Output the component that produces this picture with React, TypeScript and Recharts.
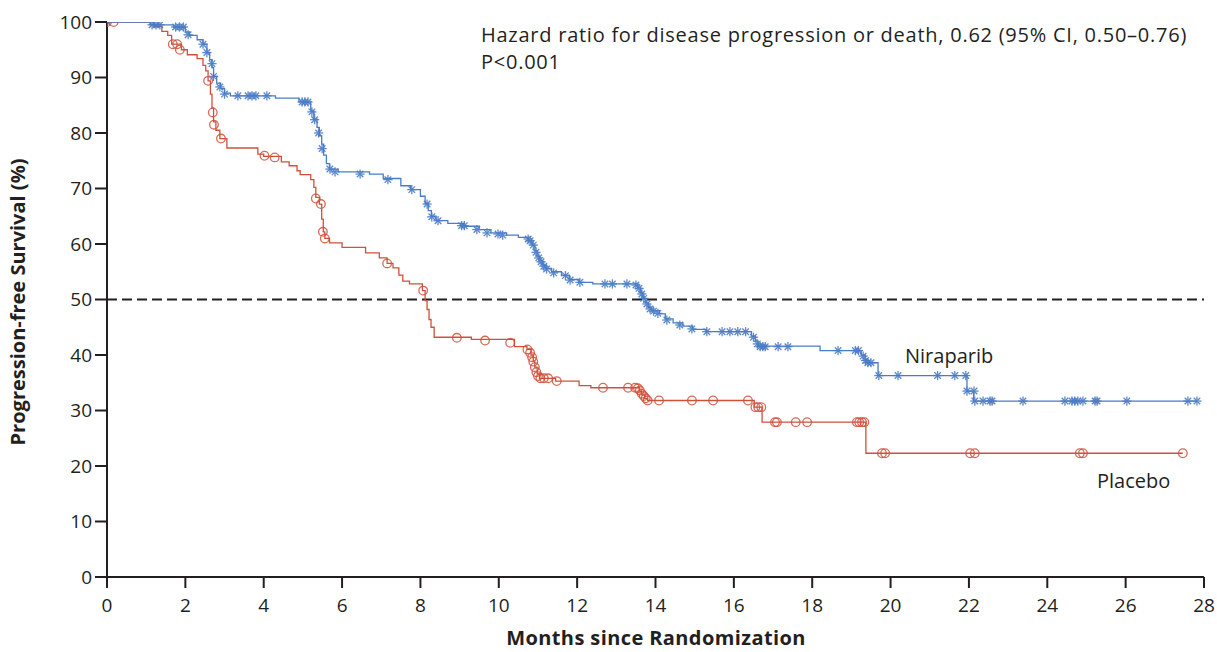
import { ComposedChart, Line, Scatter, XAxis, YAxis, ReferenceLine } from 'recharts'

// Kaplan-Meier step points (months, % progression-free)
const niraparibTimes = [0, 1.1, 1.7, 2.0, 2.1, 2.3, 2.45, 2.55, 2.62, 2.68, 2.72, 2.8, 2.9, 3.0, 3.15, 4.3, 4.9, 5.2, 5.28, 5.36, 5.42, 5.48, 5.53, 5.6, 5.68, 5.9, 6.7, 7.05, 7.5, 7.75, 8.0, 8.12, 8.2, 8.28, 8.4, 8.7, 9.1, 9.5, 9.8, 10.2, 10.5, 10.75, 10.85, 10.92, 10.98, 11.05, 11.12, 11.2, 11.35, 11.6, 11.8, 12.05, 12.4, 13.55, 13.62, 13.68, 13.75, 13.82, 13.9, 14.1, 14.25, 14.45, 14.7, 14.95, 15.3, 16.45, 16.55, 16.62, 18.2, 19.25, 19.35, 19.4, 19.68, 21.95, 22.12, 27.82]
const niraparibSurv = [100, 99.5, 99.1, 98.2, 97.6, 96.8, 96.0, 94.5, 93.2, 91.8, 90.2, 89.0, 88.0, 87.2, 86.7, 86.3, 85.6, 84.0, 82.5, 81.0, 79.5, 78.0, 76.0, 74.5, 73.5, 73.0, 72.6, 71.8, 70.5, 69.8, 68.6, 67.3, 66.0, 65.0, 64.2, 63.7, 63.2, 62.6, 62.0, 61.6, 61.2, 60.6, 59.8, 58.8, 57.8, 57.0, 56.2, 55.6, 55.0, 54.4, 53.6, 53.1, 52.8, 52.2, 51.2, 50.2, 49.4, 48.6, 48.0, 47.4, 46.5, 45.8, 45.2, 44.6, 44.2, 43.4, 42.5, 41.6, 40.8, 40.0, 39.2, 38.6, 36.3, 33.5, 31.7, 31.7]

const placeboTimes = [0, 1.2, 1.4, 1.55, 1.65, 1.9, 2.05, 2.3, 2.45, 2.52, 2.58, 2.64, 2.68, 2.72, 2.78, 2.88, 3.06, 3.85, 4.0, 4.45, 4.65, 4.85, 4.93, 5.2, 5.28, 5.33, 5.42, 5.48, 5.52, 5.56, 5.68, 6.0, 6.6, 6.95, 7.15, 7.3, 7.45, 7.55, 7.72, 8.05, 8.12, 8.17, 8.22, 8.27, 8.35, 9.3, 10.4, 10.72, 10.82, 10.88, 10.92, 10.98, 11.04, 11.45, 12.05, 12.35, 13.6, 13.65, 13.72, 13.8, 16.52, 16.72, 19.37, 27.46]
const placeboSurv = [100, 99.2, 98.3, 97.6, 96.0, 95.0, 94.1, 93.4, 92.2, 91.2, 89.4, 87.0, 84.5, 82.0, 80.5, 79.0, 77.3, 76.2, 75.8, 74.8, 74.1, 73.2, 72.5, 71.6, 70.2, 68.4, 67.2, 64.5, 62.2, 61.0, 60.2, 59.4, 58.4, 57.5, 56.5, 55.7, 54.4, 53.3, 52.8, 51.6, 49.8, 48.2, 46.4, 45.0, 43.2, 42.8, 41.5, 41.0, 40.0, 38.9, 37.8, 36.6, 35.8, 35.3, 34.5, 34.1, 33.4, 32.8, 32.2, 31.8, 30.6, 27.9, 22.3, 22.3]

// Censored observations
const niraparibCensorTimes = [0, 1.15, 1.25, 1.35, 1.75, 1.85, 1.95, 2.07, 2.45, 2.55, 2.68, 2.72, 2.88, 3.0, 3.34, 3.6, 3.7, 3.8, 4.08, 4.98, 5.05, 5.13, 5.23, 5.3, 5.4, 5.49, 5.69, 5.82, 6.46, 7.17, 7.78, 8.17, 8.29, 8.45, 9.05, 9.12, 9.44, 9.7, 9.98, 10.1, 10.75, 10.8, 10.88, 10.95, 11.02, 11.08, 11.15, 11.22, 11.4, 11.7, 11.82, 12.07, 12.71, 12.9, 13.27, 13.5, 13.58, 13.65, 13.7, 13.78, 13.86, 13.95, 14.06, 14.29, 14.62, 14.93, 15.31, 15.7, 15.9, 16.1, 16.3, 16.5, 16.6, 16.67, 16.74, 16.8, 17.13, 17.38, 18.66, 19.1, 19.18, 19.3, 19.36, 19.42, 19.5, 19.7, 20.19, 21.2, 21.64, 21.92, 21.95, 22.13, 22.15, 22.36, 22.54, 22.59, 23.38, 24.45, 24.63, 24.7, 24.78, 24.91, 25.22, 25.27, 26.03, 27.59, 27.82]
const niraparibCensorSurv = [100, 99.5, 99.5, 99.5, 99.1, 99.1, 99.1, 97.7, 96.0, 94.5, 92.5, 90.2, 88.3, 87.0, 86.7, 86.7, 86.7, 86.7, 86.7, 85.6, 85.6, 85.6, 83.8, 82.4, 80.0, 77.2, 73.5, 73.0, 72.6, 71.6, 69.8, 67.2, 64.9, 64.2, 63.3, 63.3, 62.6, 62.0, 61.8, 61.6, 60.9, 60.6, 59.8, 58.5, 57.5, 56.8, 56.0, 55.5, 54.8, 54.3, 53.5, 53.1, 52.8, 52.8, 52.8, 52.6, 52.0, 51.0, 50.2, 49.2, 48.3, 47.9, 47.5, 46.3, 45.4, 44.7, 44.2, 44.2, 44.2, 44.2, 44.2, 43.2, 42.0, 41.5, 41.5, 41.5, 41.5, 41.5, 40.8, 40.8, 40.8, 39.8, 39.0, 38.6, 38.6, 36.3, 36.3, 36.3, 36.3, 36.3, 33.5, 33.5, 31.7, 31.7, 31.7, 31.7, 31.7, 31.7, 31.7, 31.7, 31.7, 31.7, 31.7, 31.7, 31.7, 31.7, 31.7]

const placeboCensorTimes = [0, 0.17, 1.68, 1.79, 1.86, 2.58, 2.7, 2.73, 2.91, 4.02, 4.28, 5.33, 5.46, 5.51, 5.56, 7.15, 8.07, 8.93, 9.65, 10.29, 10.73, 10.8, 10.85, 10.88, 10.92, 10.96, 11.0, 11.06, 11.15, 11.26, 11.48, 12.66, 13.3, 13.48, 13.55, 13.6, 13.65, 13.7, 13.75, 13.8, 14.09, 14.93, 15.47, 16.36, 16.55, 16.62, 16.7, 17.05, 17.1, 17.58, 17.87, 19.14, 19.2, 19.27, 19.33, 19.78, 19.86, 22.03, 22.15, 24.83, 24.91, 27.46]
const placeboCensorSurv = [100, 100, 96.0, 96.0, 95.0, 89.4, 83.7, 81.5, 79.0, 75.9, 75.6, 68.2, 67.2, 62.2, 61.0, 56.5, 51.6, 43.1, 42.6, 42.2, 41.0, 40.4, 39.6, 38.8, 37.8, 36.9, 36.2, 35.8, 35.8, 35.8, 35.3, 34.1, 34.1, 34.1, 34.0, 33.6, 33.0, 32.6, 32.2, 31.8, 31.8, 31.8, 31.8, 31.8, 30.6, 30.6, 30.6, 27.9, 27.9, 27.9, 27.9, 27.9, 27.9, 27.9, 27.9, 22.3, 22.3, 22.3, 22.3, 22.3, 22.3, 22.3]

const xTicks = [0, 2, 4, 6, 8, 10, 12, 14, 16, 18, 20, 22, 24, 26, 28]
const yTicks = [0, 10, 20, 30, 40, 50, 60, 70, 80, 90, 100]

const BLUE = '#4a7cc6'
const RED = '#d0503a'
const INK = '#231f20'
const FONT = '"Open Sans", "Noto Sans", sans-serif'

const zip = (t: number[], s: number[]) => t.map((v, i) => ({ t: v, s: s[i] }))

const niraparibSteps = zip(niraparibTimes, niraparibSurv)
const placeboSteps = zip(placeboTimes, placeboSurv)
const niraparibCensor = zip(niraparibCensorTimes, niraparibCensorSurv)
const placeboCensor = zip(placeboCensorTimes, placeboCensorSurv)

function Asterisk(props: any) {
  const { cx, cy } = props
  if (cx == null || cy == null) return null
  const r = 4.6
  const d = r * 0.707
  return (
    <g stroke={BLUE} strokeWidth={1.3} opacity={0.9}>
      <line x1={cx - r} y1={cy} x2={cx + r} y2={cy} />
      <line x1={cx} y1={cy - r} x2={cx} y2={cy + r} />
      <line x1={cx - d} y1={cy - d} x2={cx + d} y2={cy + d} />
      <line x1={cx - d} y1={cy + d} x2={cx + d} y2={cy - d} />
    </g>
  )
}

function OpenCircle(props: any) {
  const { cx, cy } = props
  if (cx == null || cy == null) return null
  return <circle cx={cx} cy={cy} r={4.3} fill="none" stroke={RED} strokeWidth={1.3} opacity={0.85} />
}

export default function App() {
  return (
    <div style={{ position: 'absolute', left: 0, top: 0, width: 1217, height: 652, background: '#fff' }}>
      <ComposedChart width={1217} height={652} margin={{ top: 22, right: 13, left: 0, bottom: 0 }}>
        <XAxis
          type="number"
          dataKey="t"
          domain={[0, 28]}
          ticks={xTicks}
          allowDataOverflow
          height={75}
          stroke={INK}
          strokeWidth={2}
          tickSize={11}
          tick={{ fill: INK, fontSize: 19, fontFamily: FONT }}
          tickMargin={11}
        />
        <YAxis
          type="number"
          dataKey="s"
          domain={[0, 100]}
          ticks={yTicks}
          allowDataOverflow
          width={107}
          stroke={INK}
          strokeWidth={2}
          tickSize={12}
          tick={{ fill: INK, fontSize: 19, fontFamily: FONT }}
          tickMargin={3}
        />
        <ReferenceLine y={50} stroke={INK} strokeWidth={2} strokeDasharray="10 5" />
        <Line data={placeboSteps} dataKey="s" type="stepAfter" stroke={RED} strokeWidth={1.3} dot={false} isAnimationActive={false} />
        <Line data={niraparibSteps} dataKey="s" type="stepAfter" stroke={BLUE} strokeWidth={1.3} dot={false} isAnimationActive={false} />
        <Scatter data={placeboCensor} dataKey="s" shape={OpenCircle} isAnimationActive={false} />
        <Scatter data={niraparibCensor} dataKey="s" shape={Asterisk} isAnimationActive={false} />
      </ComposedChart>
      <svg width={1217} height={652} style={{ position: 'absolute', left: 0, top: 0, pointerEvents: 'none' }} fontFamily={FONT} fill={INK}>
        <text x={481} y={42} fontSize={20} letterSpacing={0.75}>
          Hazard ratio for disease progression or death, 0.62 (95% CI, 0.50–0.76)
        </text>
        <text x={481} y={69} fontSize={20} letterSpacing={0.75}>
          P&lt;0.001
        </text>
        <text x={905} y={363} fontSize={20}>Niraparib</text>
        <text x={1097} y={488} fontSize={20}>Placebo</text>
        <text x={656} y={645} fontSize={20} fontWeight={700} letterSpacing={0.4} textAnchor="middle">
          Months since Randomization
        </text>
        <text x={25} y={302} fontSize={20} fontWeight={700} textAnchor="middle" transform="rotate(-90 25 302)">
          Progression-free Survival (%)
        </text>
      </svg>
    </div>
  )
}
